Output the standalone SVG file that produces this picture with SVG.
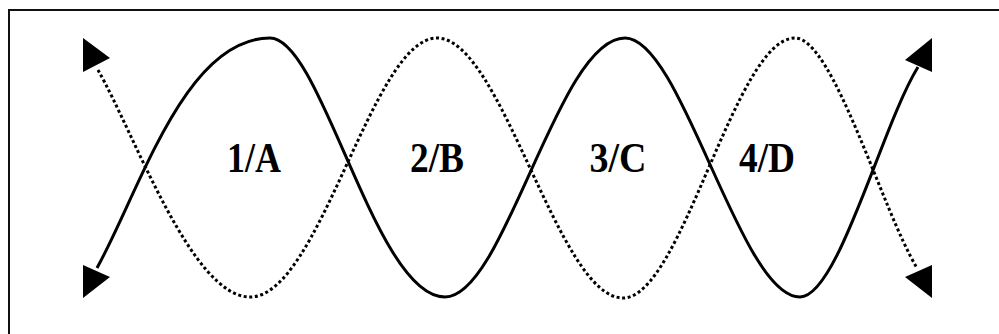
<svg xmlns="http://www.w3.org/2000/svg" width="999" height="334" viewBox="0 0 999 334">
<style>
.frame{fill:none;stroke:#111;stroke-width:2}
.solid{fill:none;stroke:#000;stroke-width:3;stroke-linejoin:round}
.dotted{fill:none;stroke:#000;stroke-width:3;stroke-dasharray:3 2.6}
.head{fill:#000}
.lbl{font-family:"Liberation Serif","Times New Roman",serif;font-weight:bold;font-size:43px;fill:#000;text-anchor:middle}
</style>
<rect width="999" height="334" fill="#fff"/>
<path class="frame" d="M9 334 V10 H999"/>
<g id="connectors">
<path id="solid-wave" class="solid" d="M97 268 C140 190 185 38 270 38 C322 38 375 297 445 297 C505 297 558 38 625 38 C682 38 740 297 800 297 C838 297 882 125 918 67"/>
<path id="dotted-wave" class="dotted" d="M98 70 C135 135 192 297 250 297 C320 297 372 38 437 38 C502 38 558 298 623 298 C682 298 735 38 795 38 C833 38 882 210 917 268"/>
<polygon class="head" points="83,38 110,58 83,72"/>
<polygon class="head" points="83,265 110,277 83,298"/>
<polygon class="head" points="932,38 905,60 932,72"/>
<polygon class="head" points="932,265 905,277 932,298"/>
</g>
<g id="n1"><text class="lbl" x="254" y="172" textLength="54" lengthAdjust="spacingAndGlyphs">1/A</text></g>
<g id="n2"><text class="lbl" x="437" y="172" textLength="54" lengthAdjust="spacingAndGlyphs">2/B</text></g>
<g id="n3"><text class="lbl" x="618" y="172" textLength="57" lengthAdjust="spacingAndGlyphs">3/C</text></g>
<g id="n4"><text class="lbl" x="767" y="172" textLength="56" lengthAdjust="spacingAndGlyphs">4/D</text></g>
</svg>
